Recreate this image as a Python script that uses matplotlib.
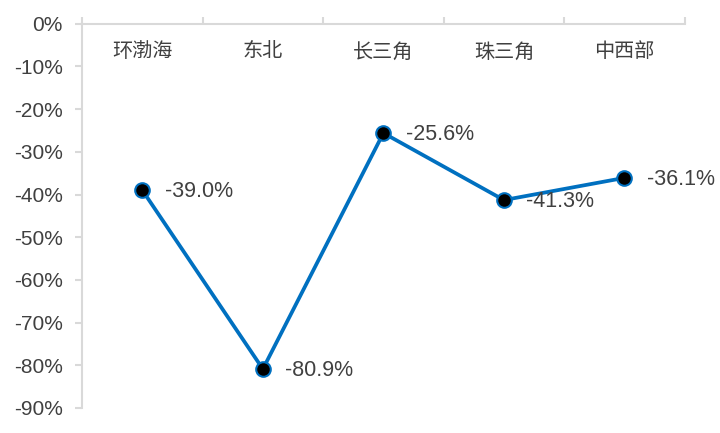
import matplotlib.pyplot as plt
from matplotlib.ticker import FuncFormatter

plt.rcParams['font.family'] = ['Liberation Sans', 'Noto Sans CJK SC', 'DejaVu Sans']

regions = ['环渤海', '东北', '长三角', '珠三角', '中西部']
values = [-39.0, -80.9, -25.6, -41.3, -36.1]
y_ticks = [0, -10, -20, -30, -40, -50, -60, -70, -80, -90]

text_color = '#404040'
line_color = '#0070C0'
axis_color = '#d9d9d9'

fig = plt.figure(figsize=(7.2, 4.33), dpi=100)
ax = fig.add_axes([0.114, 0.058, 0.837, 0.887])

x = list(range(len(regions)))
ax.plot(x, values, color=line_color, linewidth=2.7, marker='o', markersize=10.5,
        markerfacecolor='black', markeredgecolor=line_color, markeredgewidth=1.5,
        zorder=3)

# value labels to the right of each point
for xi, v in zip(x, values):
    ax.annotate(f'{v:.1f}%', xy=(xi, v), xytext=(16, -1), textcoords='offset points',
                ha='left', va='center', fontsize=15.5, color=text_color)

ax.set_xlim(-0.5, len(regions) - 0.5)
ax.set_ylim(-90, 0)
ax.set_yticks(y_ticks)
ax.yaxis.set_major_formatter(FuncFormatter(lambda v, p: f'{v:.0f}%'))

# category axis sits at 0%, boundaries marked with ticks pointing up
ax.xaxis.tick_top()
ax.set_xticks([i - 0.5 for i in range(len(regions) + 1)])
ax.set_xticklabels([])
ax.tick_params(axis='x', direction='out', length=5, color=axis_color, width=1.5)
ax.tick_params(axis='y', direction='out', length=5, color=axis_color, width=1.5,
               labelsize=15, labelcolor=text_color, pad=9)

# category names below the axis line
for xi, name in zip(x, regions):
    ax.text(xi, -6.6, name, ha='center', va='center', fontsize=14.5,
            color=text_color, family=['Noto Sans CJK SC', 'DejaVu Sans'])

for side in ['right', 'bottom']:
    ax.spines[side].set_visible(False)
for side in ['left', 'top']:
    ax.spines[side].set_color(axis_color)
    ax.spines[side].set_linewidth(1.5)

plt.savefig('out.png', dpi=100)
